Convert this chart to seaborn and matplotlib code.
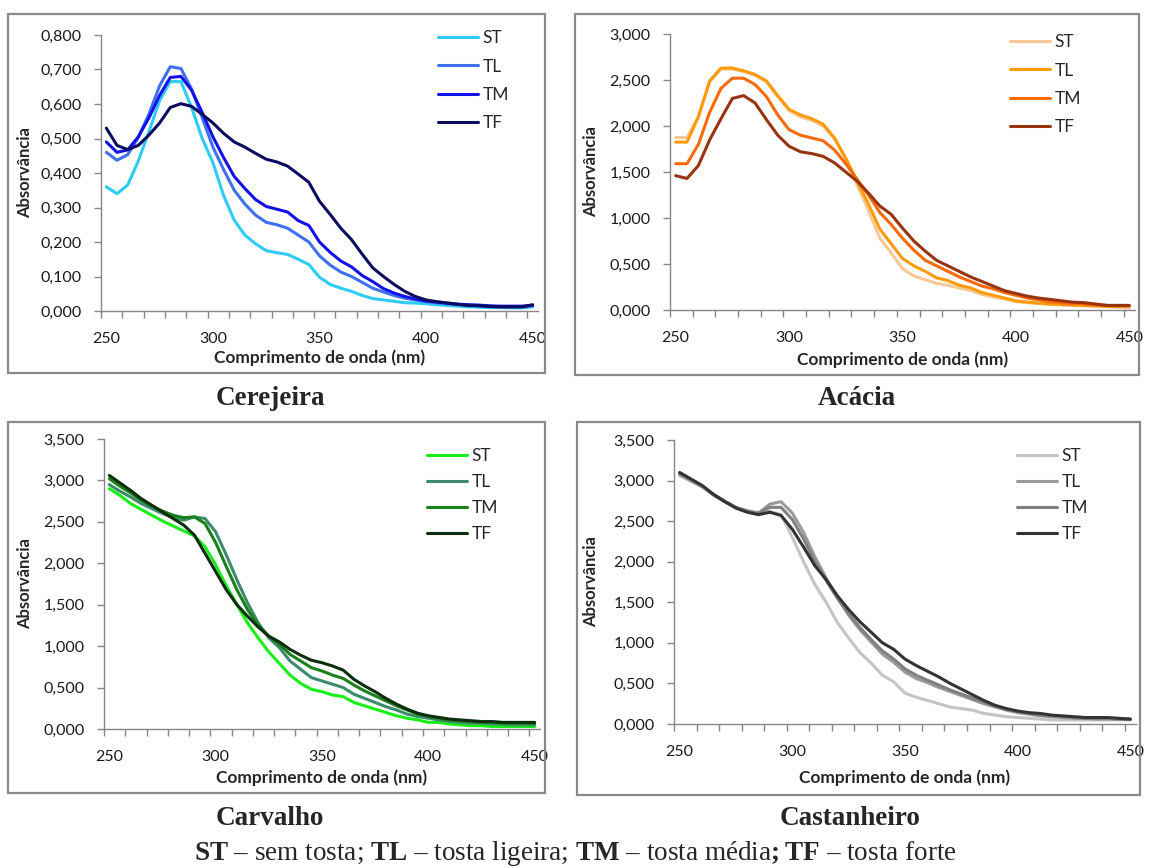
import numpy as np
import pandas as pd
import seaborn as sns
import matplotlib.pyplot as plt
from matplotlib.patches import Rectangle
from matplotlib.ticker import FixedLocator, FuncFormatter

sns.set_theme(style='white')
plt.rcParams['font.family'] = ['Lato', 'DejaVu Sans']
plt.rcParams['mathtext.fontset'] = 'custom'
plt.rcParams['mathtext.rm'] = 'Liberation Serif'
plt.rcParams['mathtext.bf'] = 'Liberation Serif:bold'

W, H = 1150, 867

# wavelengths (nm), every 5 nm
wavelength = list(range(250, 455, 5))
series_names = ['ST', 'TL', 'TM', 'TF']

cerejeira_st = [0.360, 0.340, 0.365, 0.435, 0.520, 0.610, 0.665, 0.665, 0.590, 0.500,
                0.430, 0.335, 0.263, 0.220, 0.195, 0.175, 0.169, 0.164, 0.150, 0.135,
                0.098, 0.077, 0.066, 0.057, 0.045, 0.036, 0.032, 0.028, 0.024, 0.023,
                0.021, 0.018, 0.016, 0.014, 0.012, 0.011, 0.010, 0.010, 0.009, 0.009, 0.012]
cerejeira_tl = [0.460, 0.437, 0.453, 0.503, 0.571, 0.653, 0.708, 0.703, 0.643, 0.560,
                0.475, 0.410, 0.350, 0.310, 0.278, 0.257, 0.250, 0.240, 0.220, 0.200,
                0.160, 0.133, 0.113, 0.100, 0.083, 0.066, 0.055, 0.045, 0.037, 0.032,
                0.027, 0.024, 0.021, 0.019, 0.017, 0.016, 0.013, 0.012, 0.012, 0.012, 0.015]
cerejeira_tm = [0.490, 0.460, 0.467, 0.505, 0.560, 0.625, 0.677, 0.680, 0.640, 0.575,
                0.505, 0.445, 0.390, 0.355, 0.323, 0.303, 0.295, 0.287, 0.262, 0.248,
                0.200, 0.170, 0.145, 0.128, 0.103, 0.085, 0.065, 0.052, 0.042, 0.035,
                0.029, 0.026, 0.023, 0.020, 0.018, 0.017, 0.015, 0.014, 0.014, 0.014, 0.017]
cerejeira_tf = [0.530, 0.480, 0.468, 0.480, 0.510, 0.545, 0.590, 0.601, 0.593, 0.570,
                0.545, 0.515, 0.490, 0.475, 0.457, 0.440, 0.432, 0.420, 0.397, 0.373,
                0.318, 0.280, 0.240, 0.207, 0.165, 0.125, 0.100, 0.077, 0.057, 0.042,
                0.032, 0.027, 0.023, 0.019, 0.016, 0.015, 0.013, 0.012, 0.012, 0.012, 0.018]

acacia_st = [1.875, 1.875, 2.10, 2.48, 2.62, 2.62, 2.59, 2.55, 2.48, 2.32,
             2.17, 2.10, 2.06, 2.00, 1.86, 1.64, 1.36, 1.08, 0.78, 0.62,
             0.45, 0.37, 0.33, 0.29, 0.27, 0.24, 0.21, 0.17, 0.14, 0.12,
             0.09, 0.08, 0.07, 0.06, 0.055, 0.05, 0.045, 0.04, 0.035, 0.03, 0.02]
acacia_tl = [1.825, 1.825, 2.10, 2.49, 2.63, 2.63, 2.60, 2.56, 2.49, 2.33,
             2.18, 2.12, 2.08, 2.02, 1.87, 1.65, 1.40, 1.15, 0.88, 0.72,
             0.56, 0.48, 0.42, 0.35, 0.32, 0.27, 0.24, 0.19, 0.16, 0.13,
             0.10, 0.085, 0.075, 0.065, 0.06, 0.055, 0.05, 0.045, 0.04, 0.04, 0.045]
acacia_tm = [1.59, 1.59, 1.80, 2.15, 2.41, 2.52, 2.52, 2.45, 2.32, 2.12,
             1.96, 1.90, 1.87, 1.84, 1.74, 1.59, 1.42, 1.25, 1.06, 0.93,
             0.78, 0.65, 0.54, 0.48, 0.42, 0.36, 0.31, 0.26, 0.23, 0.19,
             0.16, 0.13, 0.11, 0.09, 0.08, 0.07, 0.065, 0.055, 0.05, 0.045, 0.045]
acacia_tf = [1.46, 1.43, 1.57, 1.85, 2.08, 2.30, 2.33, 2.25, 2.07, 1.90,
             1.78, 1.72, 1.70, 1.67, 1.60, 1.50, 1.40, 1.27, 1.13, 1.04,
             0.89, 0.75, 0.64, 0.54, 0.48, 0.42, 0.36, 0.31, 0.26, 0.21,
             0.18, 0.15, 0.13, 0.115, 0.10, 0.085, 0.08, 0.065, 0.05, 0.05, 0.05]

carvalho_st = [2.90, 2.82, 2.72, 2.65, 2.58, 2.51, 2.45, 2.39, 2.33, 2.20,
               1.98, 1.73, 1.50, 1.28, 1.10, 0.93, 0.79, 0.65, 0.55, 0.48,
               0.45, 0.41, 0.39, 0.32, 0.28, 0.24, 0.20, 0.16, 0.13, 0.11,
               0.08, 0.08, 0.06, 0.05, 0.04, 0.04, 0.03, 0.03, 0.03, 0.03, 0.03]
carvalho_tl = [2.95, 2.87, 2.80, 2.72, 2.66, 2.60, 2.55, 2.52, 2.56, 2.54,
               2.38, 2.10, 1.80, 1.52, 1.28, 1.10, 0.98, 0.82, 0.72, 0.62,
               0.58, 0.54, 0.50, 0.42, 0.37, 0.32, 0.27, 0.23, 0.18, 0.15,
               0.13, 0.11, 0.09, 0.08, 0.07, 0.07, 0.06, 0.06, 0.05, 0.05, 0.05]
carvalho_tm = [3.02, 2.93, 2.85, 2.76, 2.69, 2.63, 2.58, 2.55, 2.56, 2.48,
               2.25, 1.96, 1.68, 1.44, 1.25, 1.12, 1.02, 0.90, 0.82, 0.74,
               0.70, 0.65, 0.61, 0.53, 0.46, 0.40, 0.34, 0.28, 0.23, 0.18,
               0.15, 0.13, 0.11, 0.10, 0.09, 0.08, 0.08, 0.07, 0.07, 0.07, 0.07]
carvalho_tf = [3.06, 2.97, 2.88, 2.78, 2.70, 2.62, 2.54, 2.46, 2.34, 2.12,
               1.90, 1.68, 1.50, 1.36, 1.23, 1.12, 1.05, 0.96, 0.89, 0.83,
               0.80, 0.76, 0.71, 0.60, 0.52, 0.45, 0.37, 0.30, 0.24, 0.19,
               0.16, 0.14, 0.12, 0.11, 0.10, 0.09, 0.09, 0.08, 0.08, 0.08, 0.08]

castanheiro_st = [3.06, 2.99, 2.92, 2.82, 2.74, 2.67, 2.62, 2.59, 2.62, 2.58,
                  2.30, 2.00, 1.72, 1.50, 1.25, 1.06, 0.88, 0.75, 0.60, 0.52,
                  0.38, 0.33, 0.29, 0.25, 0.21, 0.19, 0.17, 0.13, 0.11, 0.09,
                  0.08, 0.07, 0.06, 0.05, 0.05, 0.05, 0.05, 0.05, 0.05, 0.05, 0.05]
castanheiro_tl = [3.08, 3.00, 2.93, 2.82, 2.74, 2.67, 2.63, 2.60, 2.71, 2.74,
                  2.60, 2.36, 2.06, 1.80, 1.56, 1.34, 1.16, 1.01, 0.86, 0.76,
                  0.64, 0.56, 0.51, 0.45, 0.40, 0.35, 0.30, 0.25, 0.21, 0.17,
                  0.14, 0.12, 0.10, 0.09, 0.08, 0.07, 0.07, 0.06, 0.06, 0.06, 0.06]
castanheiro_tm = [3.08, 3.01, 2.93, 2.83, 2.75, 2.67, 2.62, 2.60, 2.67, 2.67,
                  2.52, 2.28, 2.00, 1.77, 1.55, 1.36, 1.19, 1.04, 0.90, 0.80,
                  0.68, 0.60, 0.54, 0.48, 0.42, 0.37, 0.32, 0.27, 0.22, 0.18,
                  0.15, 0.13, 0.11, 0.10, 0.09, 0.08, 0.07, 0.07, 0.07, 0.06, 0.06]
castanheiro_tf = [3.10, 3.02, 2.94, 2.83, 2.74, 2.66, 2.61, 2.58, 2.61, 2.57,
                  2.40, 2.18, 1.95, 1.78, 1.58, 1.41, 1.26, 1.13, 1.00, 0.92,
                  0.80, 0.72, 0.65, 0.58, 0.50, 0.43, 0.36, 0.29, 0.23, 0.19,
                  0.16, 0.14, 0.13, 0.11, 0.10, 0.09, 0.08, 0.08, 0.08, 0.07, 0.06]

panel_titles = ['Cerejeira', 'Acácia', 'Carvalho', 'Castanheiro']
panel_data = [
    [cerejeira_st, cerejeira_tl, cerejeira_tm, cerejeira_tf],
    [acacia_st, acacia_tl, acacia_tm, acacia_tf],
    [carvalho_st, carvalho_tl, carvalho_tm, carvalho_tf],
    [castanheiro_st, castanheiro_tl, castanheiro_tm, castanheiro_tf],
]
panel_colors = [
    ['#2ECBF7', '#3F70F2', '#1212E8', '#0C0C5E'],
    ['#FAC896', '#FF9A0A', '#F96A0A', '#983310'],
    ['#17F017', '#3C8C6C', '#1A801A', '#0C2E0C'],
    ['#C4C4C4', '#9A9A9A', '#808080', '#333333'],
]
y_max = [0.8, 3.0, 3.5, 3.5]
y_step = [0.1, 0.5, 0.5, 0.5]

# layout in pixels
axes_px = [(101, 538, 35, 311), (670, 1135, 34, 310), (104, 540, 439, 729), (674, 1136, 440, 724)]
frame_px = [(8, 14, 545, 373), (575, 14, 1139, 375), (8, 422, 545, 793), (577, 422, 1140, 795)]
legend_px = [(438, 30), (1010, 34), (427, 448), (1017, 448)]
legend_spacing = [0.72, 0.72, 0.58, 0.58]
xlabel_y = [358, 360, 778, 778]
ylabel_x = [25, 591, 25, 591]
title_px = [(270, 405), (857, 405), (270, 825), (850, 825)]

fig = plt.figure(figsize=(W / 100, H / 100), dpi=100)

for i in range(4):
    # frame around the panel, drawn above the axes like the original
    x0, y0, x1, y1 = frame_px[i]
    fig.add_artist(Rectangle((x0 / W, 1 - y1 / H), (x1 - x0) / W, (y1 - y0) / H,
                             transform=fig.transFigure, fill=False,
                             edgecolor='#8a8a8a', linewidth=1.6, zorder=10))

    l, r, t, b = axes_px[i]
    ax = fig.add_axes([l / W, 1 - b / H, (r - l) / W, (b - t) / H])
    ax.set_facecolor('none')

    df = pd.DataFrame({'Comprimento de onda (nm)': wavelength * 4,
                       'Absorvância': sum(panel_data[i], []),
                       'Série': [s for s in series_names for _ in wavelength]})
    sns.lineplot(df, x='Comprimento de onda (nm)', y='Absorvância', hue='Série',
                 hue_order=series_names, palette=panel_colors[i], linewidth=2.2,
                 sort=False, ax=ax)

    ax.set_xlim(247.5, 452.5)
    ax.set_ylim(0, y_max[i])
    ax.set_xticks([250, 300, 350, 400, 450])
    ax.xaxis.set_minor_locator(FixedLocator(np.arange(247.5, 452, 10)))
    ax.set_yticks(np.arange(0, y_max[i] + 1e-9, y_step[i]))
    ax.yaxis.set_major_formatter(FuncFormatter(lambda v, p: f'{v:.3f}'.replace('.', ',')))
    ax.tick_params(axis='x', which='major', length=0, pad=15, labelsize=11.5, labelcolor='#1a1a1a')
    ax.tick_params(axis='x', which='minor', length=5, width=1, color='#868686', direction='out')
    ax.tick_params(axis='y', which='major', length=5, width=1, color='#868686', direction='out',
                   pad=9, labelsize=11.5, labelcolor='#1a1a1a')
    ax.xaxis.set_ticks_position('bottom')
    ax.yaxis.set_ticks_position('left')
    for side in ['top', 'right']:
        ax.spines[side].set_visible(False)
    for side in ['left', 'bottom']:
        ax.spines[side].set_color('#868686')
        ax.spines[side].set_linewidth(1)

    ax.set_xlabel('Comprimento de onda (nm)', fontsize=12.5, fontweight='bold', va='center')
    ax.xaxis.set_label_coords(0.5, (b - xlabel_y[i]) / (b - t))
    ax.set_ylabel('Absorvância', fontsize=12, fontweight='bold', va='center')
    ax.yaxis.set_label_coords((ylabel_x[i] - l) / (r - l), 0.5)

    handles, labels = ax.get_legend_handles_labels()
    lx, ly = legend_px[i]
    ax.legend(handles, labels, loc='upper left', bbox_to_anchor=(lx / W, 1 - ly / H),
              bbox_transform=fig.transFigure, frameon=False, fontsize=12.5,
              handlelength=2.3, handletextpad=0.25, labelspacing=legend_spacing[i],
              borderpad=0, borderaxespad=0)

    tx, ty = title_px[i]
    fig.text(tx / W, 1 - ty / H, panel_titles[i], ha='center', va='baseline',
             fontsize=19.5, fontweight='bold', family='Liberation Serif')

# mathtext puts a small space after the semicolon by itself
fig.text(575 / W, 1 - 860 / H,
         r'$\mathbf{ST}$ – sem tosta; $\mathbf{TL}$ – tosta ligeira; '
         r'$\mathbf{TM}$ – tosta média$\mathbf{;TF}$ – tosta forte',
         ha='center', va='baseline', fontsize=19.5, family='Liberation Serif')

fig.savefig('out.png', dpi=100, facecolor='white')
